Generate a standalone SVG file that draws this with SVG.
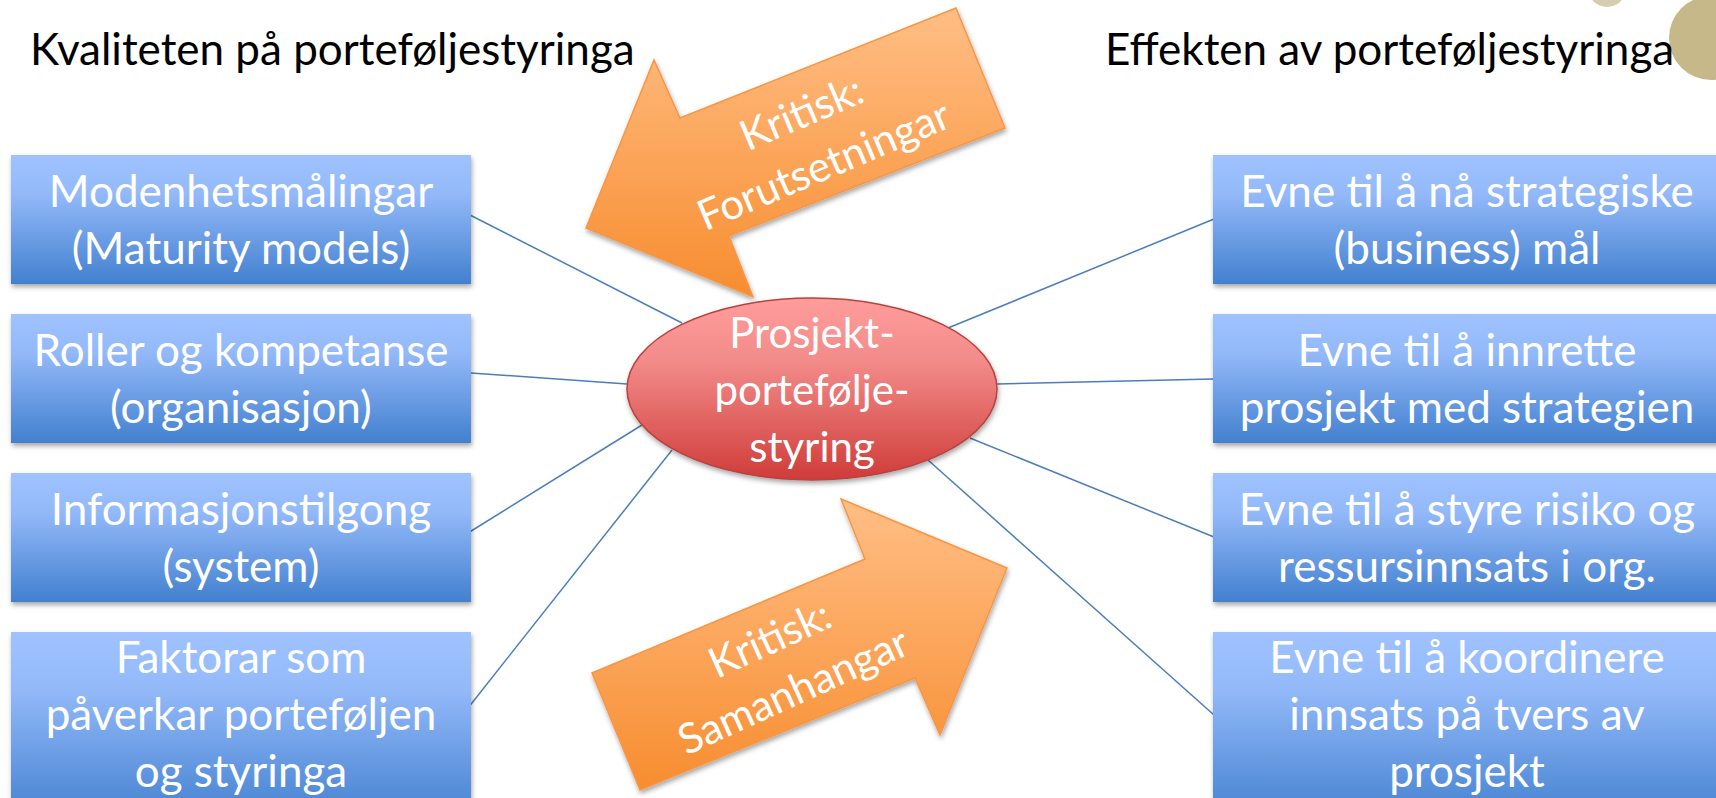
<svg xmlns="http://www.w3.org/2000/svg" width="1716" height="798" viewBox="0 0 1716 798">
<style>
.title{font-family:Lato,"Liberation Sans",sans-serif;font-size:44px;fill:#000}
.lbl{font-family:Lato,"Liberation Sans",sans-serif;font-size:42px;fill:#fff;text-anchor:middle}
.blbl{font-family:Lato,"Liberation Sans",sans-serif;font-size:44px;fill:#fff;text-anchor:middle}
.box{fill:url(#gBlue);filter:url(#sh)}
.conn{stroke:#4A7EBB;stroke-width:1.5;fill:none}
.arrow{fill:url(#gOrange);stroke:#F79646;stroke-width:1.5;stroke-linejoin:miter;filter:url(#sh)}
</style>
<defs>
<linearGradient id="gBlue" x1="0" y1="0" x2="0" y2="1">
<stop offset="0" stop-color="#A0C3FF"/>
<stop offset="0.3" stop-color="#93B9F9"/>
<stop offset="1" stop-color="#4280CF"/>
</linearGradient>
<linearGradient id="gRed" x1="0" y1="0" x2="0" y2="1">
<stop offset="0" stop-color="#FF9D9C"/>
<stop offset="0.35" stop-color="#F28B89"/>
<stop offset="1" stop-color="#CF3C39"/>
</linearGradient>
<linearGradient id="gOrange" x1="0" y1="0" x2="0" y2="1">
<stop offset="0" stop-color="#FFBE84"/>
<stop offset="0.35" stop-color="#FDAD68"/>
<stop offset="1" stop-color="#F78D2F"/>
</linearGradient>
<filter id="sh" x="-10%" y="-10%" width="120%" height="130%">
<feDropShadow dx="1" dy="3" stdDeviation="2.5" flood-color="#000" flood-opacity="0.35"/>
</filter>
</defs>
<rect width="1716" height="798" fill="#fff"/>

<g id="decor">
<circle cx="1607" cy="-12" r="19" fill="#D6CDB0"/>
<circle cx="1711" cy="38" r="42" fill="#C6B888"/>
</g>

<g id="titles">
<text class="title" x="30" y="65">Kvaliteten på porteføljestyringa</text>
<text class="title" x="1105" y="65">Effekten av porteføljestyringa</text>
</g>

<g id="connectors">
<line class="conn" x1="470" y1="215" x2="682" y2="323"/>
<line class="conn" x1="471" y1="373" x2="627" y2="384"/>
<line class="conn" x1="468" y1="533" x2="642" y2="425"/>
<line class="conn" x1="468" y1="708" x2="672" y2="450"/>
<line class="conn" x1="948" y1="328" x2="1214" y2="219"/>
<line class="conn" x1="997" y1="384" x2="1213" y2="379"/>
<line class="conn" x1="970" y1="438" x2="1214" y2="537"/>
<line class="conn" x1="928" y1="460" x2="1214" y2="715"/>
</g>

<g id="arrow-forutsetningar">
<polygon class="arrow" points="956,8 1005,128 729,236 753,297 586,228 654,60 680,118"/>
<g transform="translate(813,140) rotate(-23)">
<text class="lbl" x="0" y="-15">Kritisk:</text>
<text class="lbl" x="0" y="42">Forutsetningar</text>
</g>
</g>

<g id="arrow-samanhangar">
<polygon class="arrow" points="592,673 640,790 915,678 940,735 1007,568 841,499 865,559"/>
<g transform="translate(782,666) rotate(-24.5)">
<text class="lbl" x="0" y="-15">Kritisk:</text>
<text class="lbl" x="0" y="42">Samanhangar</text>
</g>
</g>

<g id="center">
<ellipse cx="812" cy="389" rx="185" ry="91" fill="url(#gRed)" stroke="#B8423F" stroke-width="1.5" filter="url(#sh)"/>
<text class="lbl" x="812" y="348">Prosjekt-</text>
<text class="lbl" x="812" y="405">portefølje-</text>
<text class="lbl" x="812" y="462">styring</text>
</g>

<g id="left-1">
<rect class="box" x="11" y="155" width="460" height="129"/>
<text class="blbl" x="241" y="207">Modenhetsmålingar</text>
<text class="blbl" x="241" y="264">(Maturity models)</text>
</g>
<g id="left-2">
<rect class="box" x="11" y="314" width="460" height="129"/>
<text class="blbl" x="241" y="366">Roller og kompetanse</text>
<text class="blbl" x="241" y="423">(organisasjon)</text>
</g>
<g id="left-3">
<rect class="box" x="11" y="473" width="460" height="129"/>
<text class="blbl" x="241" y="525">Informasjonstilgong</text>
<text class="blbl" x="241" y="582">(system)</text>
</g>
<g id="left-4">
<rect class="box" x="11" y="632" width="460" height="190"/>
<text class="blbl" x="241" y="673">Faktorar som</text>
<text class="blbl" x="241" y="730">påverkar porteføljen</text>
<text class="blbl" x="241" y="787">og styringa</text>
</g>

<g id="right-1">
<rect class="box" x="1213" y="155" width="510" height="129"/>
<text class="blbl" x="1467" y="207">Evne til å nå strategiske</text>
<text class="blbl" x="1467" y="264">(business) mål</text>
</g>
<g id="right-2">
<rect class="box" x="1213" y="314" width="510" height="129"/>
<text class="blbl" x="1467" y="366">Evne til å innrette</text>
<text class="blbl" x="1467" y="423">prosjekt med strategien</text>
</g>
<g id="right-3">
<rect class="box" x="1213" y="473" width="510" height="129"/>
<text class="blbl" x="1467" y="525">Evne til å styre risiko og</text>
<text class="blbl" x="1467" y="582">ressursinnsats i org.</text>
</g>
<g id="right-4">
<rect class="box" x="1213" y="632" width="510" height="190"/>
<text class="blbl" x="1467" y="673">Evne til å koordinere</text>
<text class="blbl" x="1467" y="730">innsats på tvers av</text>
<text class="blbl" x="1467" y="787">prosjekt</text>
</g>
</svg>
